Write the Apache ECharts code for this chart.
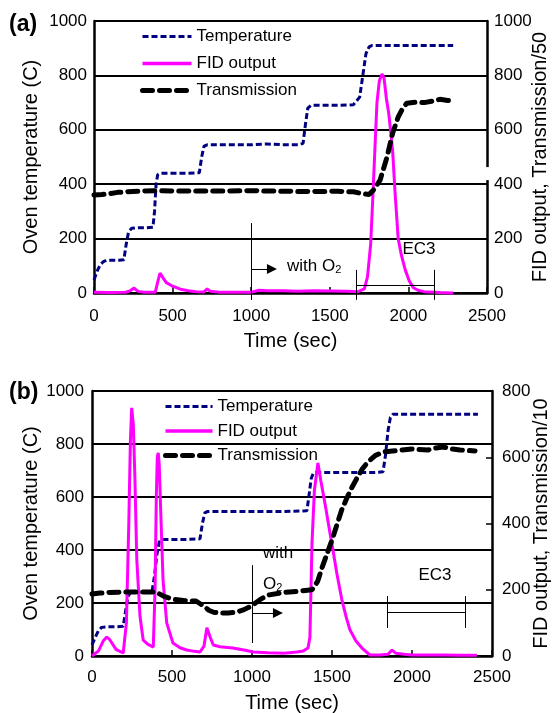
<!DOCTYPE html>
<html><head><meta charset="utf-8">
<script src="https://cdn.jsdelivr.net/npm/echarts@6/dist/echarts.min.js"></script>
<style>html,body{margin:0;padding:0;background:#fff}#c{width:555px;height:713px}</style>
</head><body><div id="c"></div>
<script>
// ---------- Panel (a) data ----------
const tempA_t = [0, 20, 40, 60, 80, 120, 160, 190, 205, 220, 240, 280, 330, 375, 385, 395, 405, 420, 500, 600, 670, 685, 700, 720, 800, 900, 1000, 1100, 1200, 1300, 1330, 1345, 1360, 1380, 1450, 1550, 1650, 1690, 1710, 1730, 1750, 1770, 1850, 1950, 2050, 2150, 2285];
const tempA_v = [48, 80, 105, 115, 120, 120, 120, 122, 180, 225, 238, 240, 240, 242, 300, 400, 435, 440, 440, 440, 442, 500, 540, 545, 545, 545, 545, 548, 545, 545, 550, 620, 680, 690, 690, 690, 692, 720, 800, 880, 905, 910, 910, 910, 910, 910, 910];
const fidA_t = [0, 100, 200, 230, 255, 280, 320, 390, 405, 420, 440, 460, 500, 550, 600, 650, 700, 720, 740, 800, 900, 1000, 1050, 1100, 1200, 1300, 1400, 1500, 1600, 1680, 1720, 1740, 1760, 1775, 1790, 1800, 1815, 1832, 1845, 1860, 1875, 1890, 1900, 1915, 1935, 1955, 1980, 2005, 2030, 2060, 2100, 2200, 2285];
const fidA_v = [3, 2, 3, 8, 18, 6, 3, 3, 40, 73, 55, 38, 25, 14, 8, 5, 4, 15, 6, 3, 3, 3, 10, 8, 8, 6, 8, 7, 6, 5, 15, 60, 180, 370, 570, 700, 780, 805, 790, 715, 660, 580, 520, 370, 200, 140, 85, 45, 20, 10, 5, 2, 0];
const transA_t = [0, 50, 100, 150, 200, 300, 400, 500, 600, 800, 1000, 1200, 1400, 1550, 1650, 1700, 1750, 1780, 1820, 1864, 1900, 1935, 1965, 1990, 2050, 2100, 2150, 2200, 2250, 2285];
const transA_v = [360, 362, 365, 370, 372, 375, 376, 375, 375, 375, 376, 374, 373, 374, 372, 366, 362, 380, 415, 500, 588, 647, 680, 698, 702, 700, 705, 712, 708, 705];

// ---------- Panel (b) data ----------
const tempB_t = [0, 20, 40, 60, 100, 150, 195, 210, 225, 240, 300, 375, 390, 405, 420, 437, 500, 600, 675, 690, 705, 720, 800, 900, 1000, 1100, 1200, 1343, 1355, 1370, 1385, 1450, 1550, 1650, 1750, 1819, 1835, 1850, 1865, 1880, 1950, 2050, 2150, 2250, 2350, 2412];
const tempB_v = [42, 70, 95, 108, 110, 110, 112, 170, 225, 240, 241, 242, 300, 380, 430, 440, 440, 440, 442, 500, 540, 545, 545, 545, 545, 545, 545, 548, 600, 670, 692, 692, 692, 692, 692, 695, 760, 850, 900, 912, 912, 912, 912, 912, 912, 912];
const fidB_t = [0, 40, 70, 92, 110, 150, 195, 215, 230, 240, 248, 258, 268, 280, 300, 320, 350, 383, 394, 402, 408, 414, 420, 430, 444, 467, 506, 550, 592, 640, 675, 700, 718, 740, 758, 800, 880, 950, 1008, 1100, 1200, 1280, 1320, 1350, 1362, 1375, 1390, 1412, 1430, 1460, 1487, 1506, 1530, 1562, 1590, 1612, 1650, 1687, 1737, 1800, 1850, 1875, 1900, 1950, 2000, 2100, 2200, 2300, 2406];
const fidB_v = [0, 15, 45, 57, 50, 20, 9, 100, 400, 650, 749, 700, 540, 290, 120, 48, 35, 27, 200, 480, 600, 613, 580, 430, 230, 100, 39, 25, 18, 14, 12, 30, 85, 55, 33, 28, 24, 18, 12, 10, 8, 12, 15, 24, 57, 341, 500, 583, 530, 450, 372, 320, 250, 169, 115, 79, 45, 24, 3, 3, 5, 18, 8, 5, 3, 3, 3, 2, 2];
const transB_t = [0, 50, 100, 200, 300, 400, 450, 500, 600, 650, 700, 730, 760, 800, 850, 900, 950, 1000, 1050, 1100, 1200, 1300, 1375, 1410, 1440, 1470, 1500, 1530, 1560, 1593, 1620, 1656, 1690, 1725, 1770, 1819, 1900, 2000, 2100, 2150, 2194, 2250, 2300, 2394];
const transB_v = [187, 190, 192, 193, 193, 193, 180, 172, 166, 166, 150, 138, 132, 130, 130, 132, 140, 152, 170, 184, 192, 196, 200, 225, 270, 310, 350, 395, 440, 477, 505, 537, 565, 586, 605, 616, 620, 625, 622, 628, 631, 625, 622, 619];

// ---------- annotation positions (data units) ----------
const o2LineA = [[1000, -26], [1000, 257]];
const o2ArrowA = [[1000, 88], [1132, 88]];
const ec3A = { x0: 1667, x1: 2163, yLo: -25, yHi: 85, yBar: 29 };
const axisGapA = [[2500, 415], [2500, 463]];
const o2LineB = [[1000, 49], [1000, 343]];
const o2ArrowB = [[1000, 162], [1162, 162]];
const ec3B = { x0: 1844, x1: 2331, yLo: 106, yHi: 226, yBar: 166 };

// ---------- axes / labels ----------
const xTicks = [0, 500, 1000, 1500, 2000, 2500];
const leftTicksA = [0, 200, 400, 600, 800, 1000];
const rightTicksA = [0, 200, 400, 600, 800, 1000];
const leftTicksB = [0, 200, 400, 600, 800, 1000];
const rightTicksB = [0, 200, 400, 600, 800];
const legendNames = ['Temperature', 'FID output', 'Transmission'];
const xName = 'Time (sec)';
const yLeftName = 'Oven temperature (C)';
const yRightNameA = 'FID output, Transmission/50';
const yRightNameB = 'FID output, Transmission/10';

const FONT = '"Liberation Sans", Arial, sans-serif';
const pairs = (t, v) => t.map((x, i) => [x, v[i]]);
const axisStep = a => a[1] - a[0];
const plain = v => String(v);

function xAxis(grid, lblMargin, nameGap) {
  return {
    type: 'value', gridIndex: grid, min: xTicks[0], max: xTicks[xTicks.length - 1], interval: axisStep(xTicks),
    axisLine: { show: true, onZero: false, lineStyle: { color: '#000', width: 2.5 } },
    axisTick: { show: true, inside: true, length: 6, lineStyle: { color: '#000', width: 1.5 } },
    axisLabel: { fontSize: 17, color: '#000', fontFamily: FONT, margin: lblMargin, formatter: plain },
    splitLine: { show: false },
    name: xName, nameLocation: 'middle', nameGap: nameGap, nameMoveOverlap: false,
    nameTextStyle: { fontSize: 20, color: '#000', fontFamily: FONT }
  };
}
function yLeft(grid, ticks, nameGap, margin) {
  return {
    type: 'value', gridIndex: grid, position: 'left', min: ticks[0], max: ticks[ticks.length - 1], interval: axisStep(ticks),
    axisLine: { show: true, lineStyle: { color: '#000', width: 2.5 } },
    axisTick: { show: false },
    axisLabel: { fontSize: 17, color: '#000', fontFamily: FONT, margin: margin, formatter: plain },
    splitLine: { show: true, lineStyle: { color: '#000', width: 2 } },
    name: yLeftName, nameLocation: 'middle', nameGap: nameGap, nameMoveOverlap: false,
    nameTextStyle: { fontSize: 20, color: '#000', fontFamily: FONT }
  };
}
function yRight(grid, ticks, name, nameGap, margin) {
  return {
    type: 'value', gridIndex: grid, position: 'right', min: ticks[0], max: ticks[ticks.length - 1], interval: axisStep(ticks),
    axisLine: { show: true, lineStyle: { color: '#000', width: 2.5 } },
    axisTick: { show: true, inside: true, length: 6, lineStyle: { color: '#000', width: 1.5 } },
    axisLabel: { fontSize: 17, color: '#000', fontFamily: FONT, margin: margin, formatter: plain },
    splitLine: { show: false },
    name: name, nameLocation: 'middle', nameGap: nameGap, nameMoveOverlap: false,
    nameTextStyle: { fontSize: 20, color: '#000', fontFamily: FONT }
  };
}

const tempStyle = { color: '#000080', width: 3, type: [6, 3] };
const fidStyle = { color: '#FF00FF', width: 3, type: 'solid' };
const transStyle = { color: '#000000', width: 5, type: [10, 7], cap: 'round' };

const txt = { fontSize: 17, color: '#000', fontFamily: FONT };
const richO2 = {
  a: { fontSize: 17, color: '#000', fontFamily: FONT, lineHeight: 20, verticalAlign: 'bottom' },
  s: { fontSize: 11, color: '#000', fontFamily: FONT, lineHeight: 11, verticalAlign: 'bottom' }
};

function line(name, xi, yi, data, style, extra) {
  return Object.assign({
    name: name, type: 'line', xAxisIndex: xi, yAxisIndex: yi, data: data,
    symbol: 'none', showSymbol: false, clip: false, animation: false,
    lineStyle: style, itemStyle: { color: style.color }
  }, extra || {});
}
function ec3Segs(e) {
  return [
    { coords: [[e.x0, e.yLo], [e.x0, e.yHi]] },
    { coords: [[e.x1, e.yLo], [e.x1, e.yHi]] },
    { coords: [[e.x0, e.yBar], [e.x1, e.yBar]] }
  ];
}
function segs(xi, yi, data, arrow, color, width) {
  return {
    type: 'lines', coordinateSystem: 'cartesian2d', xAxisIndex: xi, yAxisIndex: yi,
    clip: false, silent: true, animation: false, z: 5,
    symbol: arrow ? ['none', 'triangle'] : ['none', 'none'], symbolSize: arrow ? [9, 10] : 0,
    lineStyle: { color: color || '#000', width: width || 1, opacity: 1, curveness: 0 },
    itemStyle: { color: color || '#000' },
    data: data
  };
}

const markersA = {
  markPoint: {
    silent: true, animation: false, symbol: 'circle', symbolSize: 0,
    data: [
      { coord: [1228, 103], label: { show: true, position: 'right', distance: 0, formatter: '{a|with O}{s|2}', rich: richO2 } },
      { coord: [2067, 162], label: Object.assign({ show: true, position: 'inside', formatter: 'EC3' }, txt) }
    ]
  }
};
const markersB = {
  markPoint: {
    silent: true, animation: false, symbol: 'circle', symbolSize: 0,
    data: [
      { coord: [1069, 389], label: Object.assign({ show: true, position: 'right', distance: 0, formatter: 'with' }, txt) },
      { coord: [1069, 275], label: { show: true, position: 'right', distance: 0, formatter: '{a|O}{s|2}', rich: richO2 } },
      { coord: [2144, 306], label: Object.assign({ show: true, position: 'inside', formatter: 'EC3' }, txt) }
    ]
  }
};

const legendItems = [
  { name: legendNames[0], lineStyle: { width: 3 } },
  { name: legendNames[1], lineStyle: { width: 3.5 } },
  { name: legendNames[2], lineStyle: { width: 5 } }
];
const legendBase = {
  orient: 'vertical', itemHeight: 14, padding: 0, selectedMode: false,
  itemStyle: { opacity: 0 },
  textStyle: { fontSize: 17, color: '#000', fontFamily: FONT }, data: legendItems
};

const option = {
  backgroundColor: '#fff',
  animation: false,
  title: [
    { text: '(a)', left: 9, top: 13, padding: 0, textStyle: { fontSize: 23, fontWeight: 'bold', color: '#000', fontFamily: FONT } },
    { text: '(b)', left: 9, top: 381, padding: 0, textStyle: { fontSize: 23, fontWeight: 'bold', color: '#000', fontFamily: FONT } }
  ],
  legend: [
    Object.assign({ left: 140, top: 28, itemGap: 10, itemWidth: 49 }, legendBase),
    Object.assign({ left: 163, top: 398, itemGap: 7.5, itemWidth: 47 }, legendBase)
  ],
  grid: [
    { left: 94, top: 21, width: 393, height: 272, containLabel: false, outerBoundsMode: 'none' },
    { left: 92, top: 391, width: 400, height: 265, containLabel: false, outerBoundsMode: 'none' }
  ],
  xAxis: [xAxis(0, 15, 38), xAxis(1, 13, 37)],
  yAxis: [yLeft(0, leftTicksA, 53, 7), yRight(0, rightTicksA, yRightNameA, 43, 7),
          yLeft(1, leftTicksB, 51, 8), yRight(1, rightTicksB, yRightNameB, 39, 10)],
  series: [
    line('Temperature', 0, 0, pairs(tempA_t, tempA_v), tempStyle, markersA),
    line('FID output', 0, 1, pairs(fidA_t, fidA_v), fidStyle),
    line('Transmission', 0, 1, pairs(transA_t, transA_v), transStyle),
    segs(0, 0, [{ coords: o2LineA }].concat(ec3Segs(ec3A)), false),
    segs(0, 0, [{ coords: o2ArrowA }], true),
    segs(0, 0, [{ coords: axisGapA }], false, '#fff', 5),
    line('Temperature', 1, 2, pairs(tempB_t, tempB_v), tempStyle, markersB),
    line('FID output', 1, 3, pairs(fidB_t, fidB_v), fidStyle),
    line('Transmission', 1, 3, pairs(transB_t, transB_v), transStyle),
    segs(1, 2, [{ coords: o2LineB }].concat(ec3Segs(ec3B)), false),
    segs(1, 2, [{ coords: o2ArrowB }], true)
  ]
};
const chart = echarts.init(document.getElementById('c'), null, { renderer: 'canvas' });
chart.setOption(option);
</script></body></html>
